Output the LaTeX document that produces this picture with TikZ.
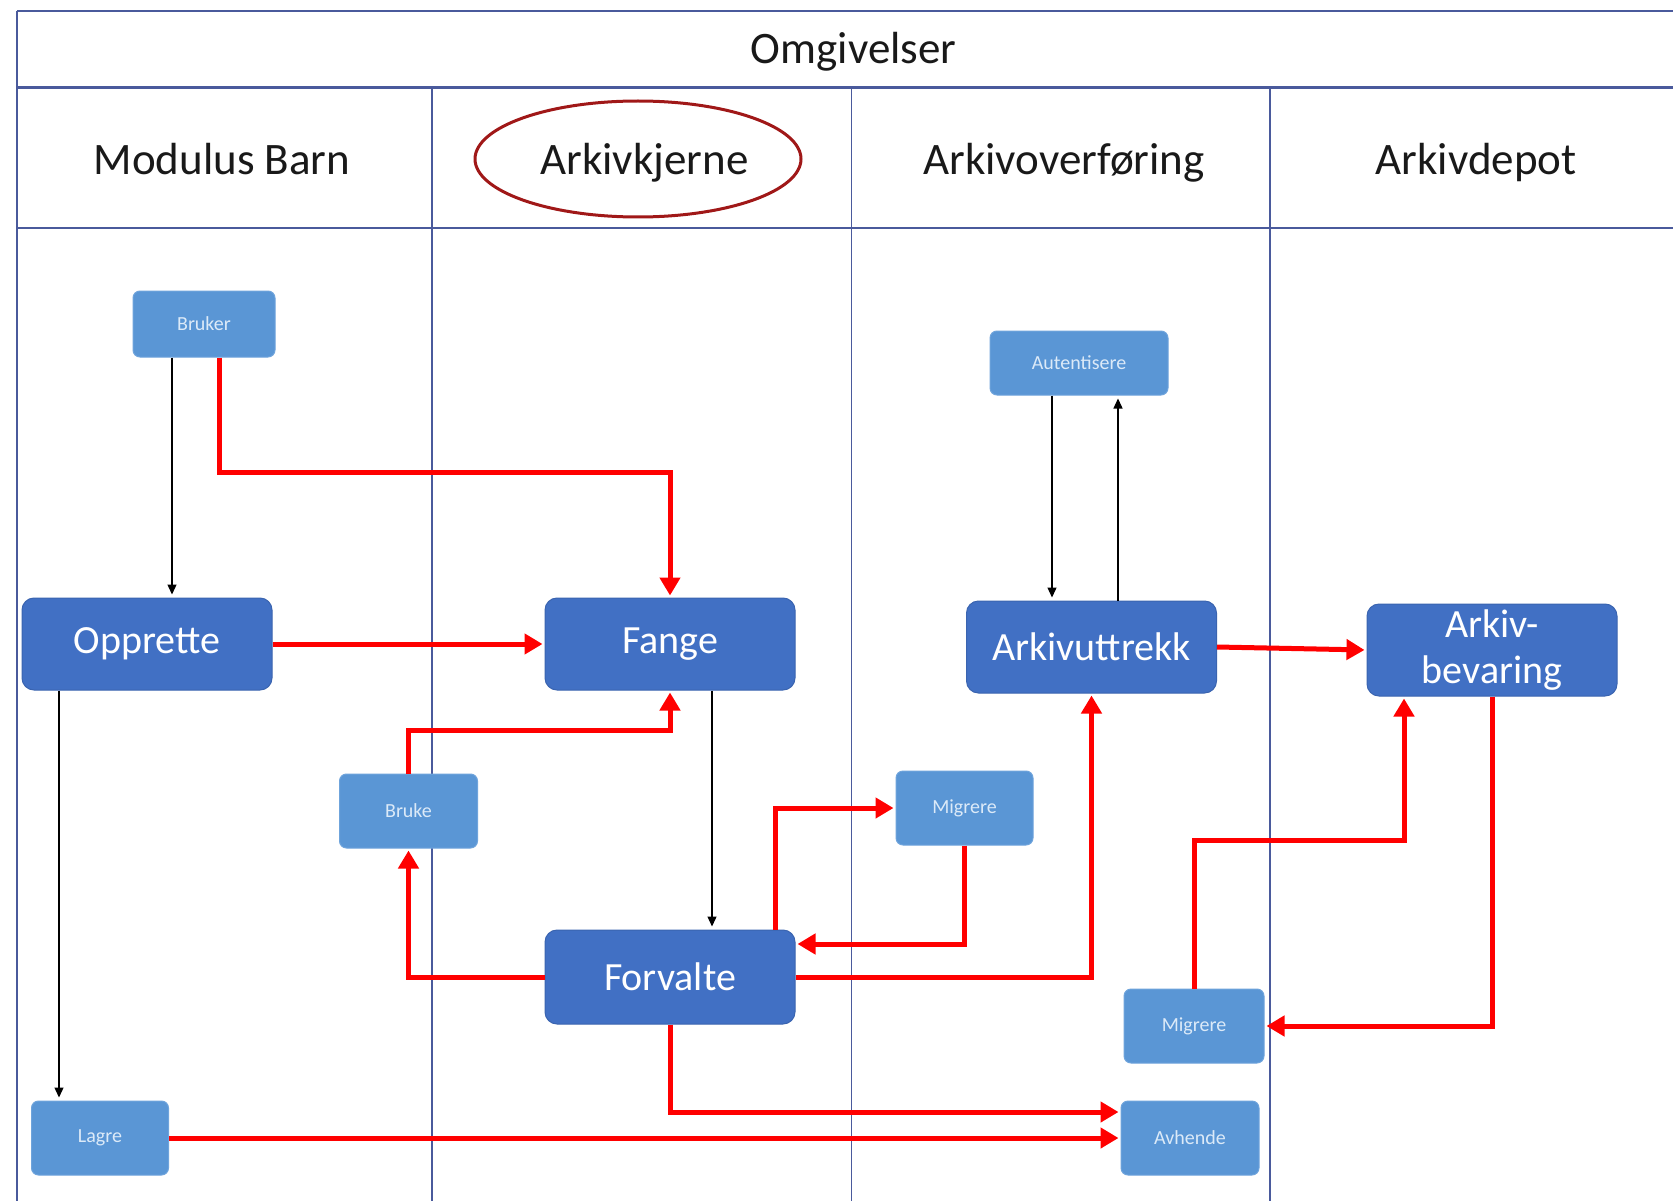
\documentclass[tikz,border=0pt]{standalone}
\usepackage{fontspec}
\setmainfont{Carlito}
\usetikzlibrary{arrows.meta}
\definecolor{bigblue}{HTML}{4170C4}
\definecolor{bigborder}{HTML}{3A64B0}
\definecolor{smallblue}{HTML}{5A96D5}
\definecolor{smallborder}{HTML}{6FA4DC}
\definecolor{smalltext}{HTML}{DCEAF8}
\definecolor{gridblue}{HTML}{4A5A9C}
\definecolor{ellred}{HTML}{A01818}
\definecolor{arrred}{HTML}{FF0000}
\begin{document}
\begin{tikzpicture}[x=1pt,y=-1pt,
  bigbox/.style={draw=bigborder, fill=bigblue, rounded corners=12pt, minimum width=250pt, minimum height=92pt, text=white, font=\fontsize{40}{46}\selectfont, inner sep=0pt, line width=1pt, align=center},
  smallbox/.style={draw=smallborder, fill=smallblue, rounded corners=7pt, minimum width=138pt, minimum height=74pt, text=smalltext, font=\fontsize{20}{24}\selectfont, inner sep=0pt, line width=1pt},
  redarrow/.style={draw=arrred, line width=5pt, -{Triangle[length=18pt,width=20pt]}, shorten >=2pt},
  blackarrow/.style={draw=black, line width=1.3pt, -{Triangle[length=10pt,width=9pt]}, shorten >=3pt},
  hline/.style={draw=gridblue, line width=2.5pt},
  vline/.style={draw=gridblue, line width=1.5pt},
  header/.style={font=\fontsize{45}{54}\selectfont, text=black!90, inner sep=0pt, anchor=base}
]
\useasboundingbox[fill=white] (0,0) rectangle (1673,1201);

% grid
\draw[hline] (17,11) -- (1673,11);
\draw[hline] (17,87.5) -- (1673,87.5);
\draw[hline] (17,228) -- (1673,228);
\draw[vline] (17,11) -- (17,1201);
\draw[vline] (432,87.5) -- (432,1201);
\draw[vline] (851.5,87.5) -- (851.5,1201);
\draw[vline] (1270,87.5) -- (1270,1201);

% headers
\node[header] (omg) at (853.6,64) {Omgivelser};
\node[header] (hmod) at (222,175) {Modulus Barn};
\node[header] (hkj) at (644.5,175) {Arkivkjerne};
\node[header] (hov) at (1064,175) {Arkivoverføring};
\node[header] (hdep) at (1476,175) {Arkivdepot};
\draw[ellred, line width=3pt] (638,159) ellipse [x radius=163, y radius=58];

% boxes
\node[smallbox, minimum width=142pt, minimum height=66pt] (bruker) at (204,324) {Bruker};
\node[smallbox, minimum width=178pt, minimum height=64pt] (autent) at (1079,363) {Autentisere};
\node[bigbox] (opprette) at (147,644) {Opprette};
\node[bigbox] (fange) at (670,644) {Fange};
\node[bigbox] (arkivuttrekk) at (1091.5,647) {Arkivuttrekk};
\node[bigbox] (bevaring) at (1492,650) {Arkiv-\\bevaring};
\node[smallbox] (bruke) at (408.5,811) {Bruke};
\node[smallbox, minimum width=137pt] (migrere1) at (964.5,808) {Migrere};
\node[bigbox, minimum height=94pt] (forvalte) at (670,977) {Forvalte};
\node[smallbox, minimum width=140pt] (migrere2) at (1194,1026) {Migrere};
\node[smallbox, minimum width=137pt] (lagre) at (100,1138) {Lagre};
\node[smallbox] (avhende) at (1190,1138) {Avhende};

% black connectors
\draw[blackarrow] ([xshift=-32pt]bruker.south) -- ([xshift=-32pt]bruker.south |- opprette.north);
\draw[blackarrow] ([xshift=-88pt]opprette.south) -- ([xshift=-88pt]opprette.south |- lagre.north);
\draw[blackarrow] ([xshift=42pt]fange.south) -- ([xshift=42pt]fange.south |- forvalte.north);
\draw[blackarrow] ([xshift=-27pt]autent.south) -- ([xshift=-27pt]autent.south |- arkivuttrekk.north);
\draw[blackarrow] ([xshift=39pt]autent.south |- arkivuttrekk.north) -- ([xshift=39pt]autent.south);

% red connectors
\draw[redarrow] ([xshift=15pt]bruker.south) -- ++(0,115) -| (fange.north);
\draw[redarrow] (opprette.east) -- (fange.west);
\draw[redarrow] (bruke.north) -- ++(0,-43) -| (fange.south);
\draw[redarrow] (forvalte.west) -| (bruke.south);
\draw[redarrow] ([xshift=105pt]forvalte.north) |- (migrere1.west);
\draw[redarrow] (migrere1.south) |- ([yshift=33pt]forvalte.east);
\draw[redarrow] (forvalte.east) -| (arkivuttrekk.south);
\draw[redarrow] (arkivuttrekk.east) -- (bevaring.west);
\draw[redarrow] (migrere2.north) -- ++(0,-148) -| ([xshift=-88pt]bevaring.south);
\draw[redarrow] (bevaring.south) |- (migrere2.east);
\draw[redarrow] (forvalte.south) |- ([yshift=26pt]avhende.west);
\draw[redarrow] (lagre.east) -- (avhende.west);
\end{tikzpicture}
\end{document}
